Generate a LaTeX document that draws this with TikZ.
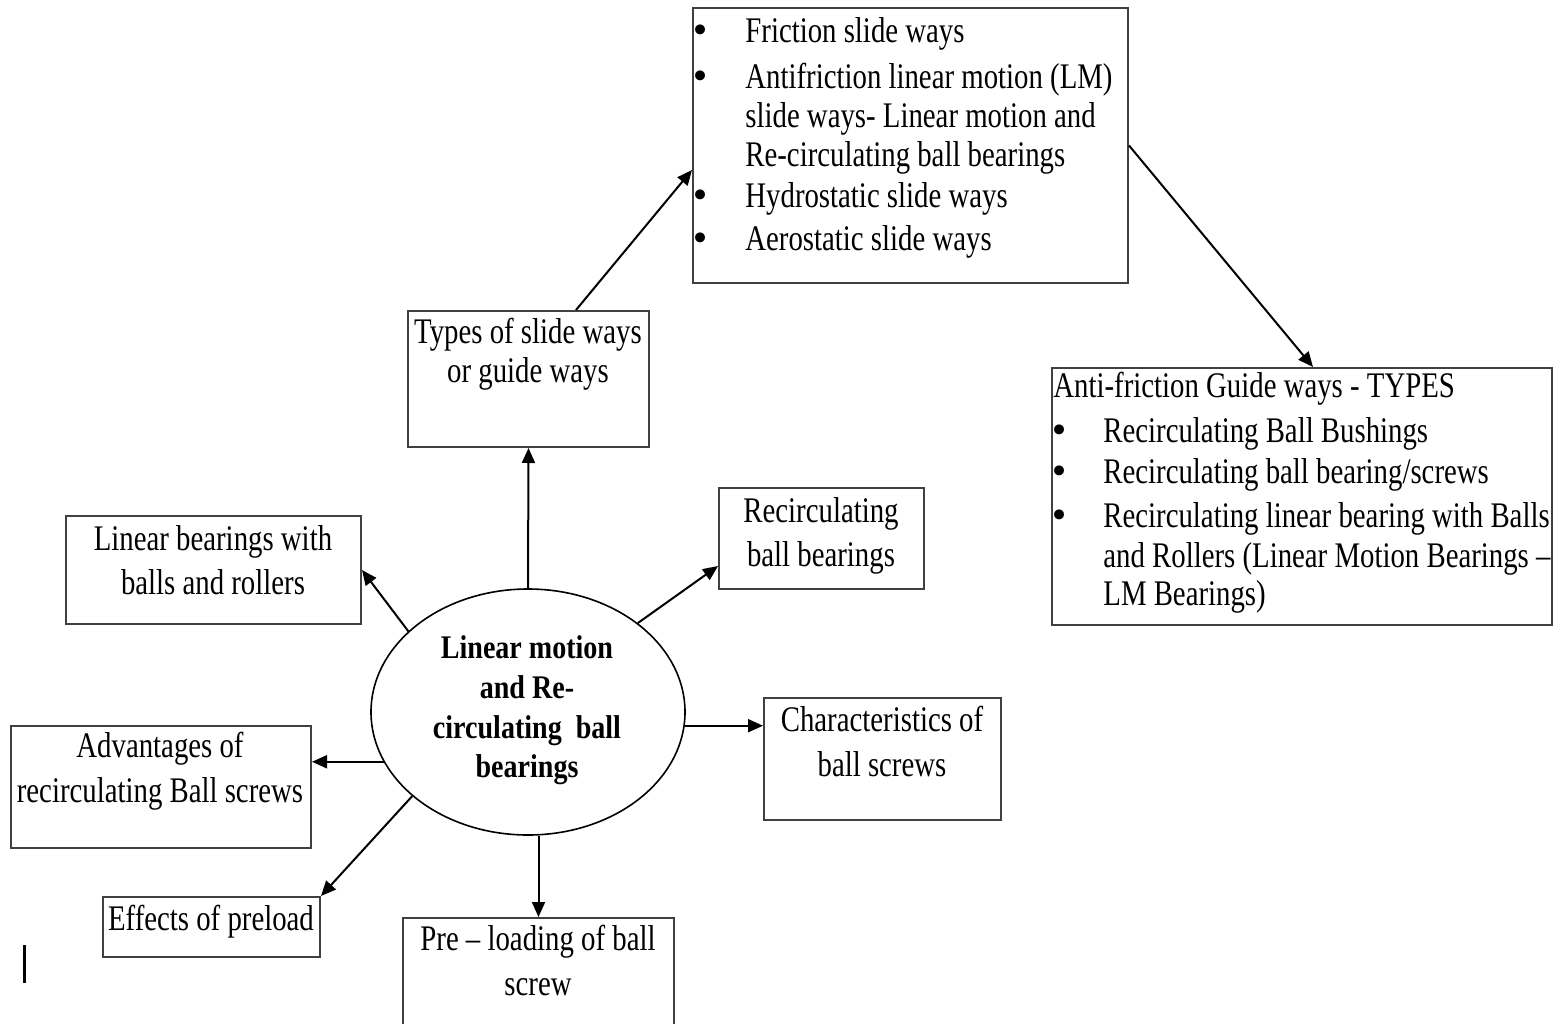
\documentclass[tikz,border=0pt]{standalone}
\usepackage{fontspec}
\setmainfont[FakeStretch=0.8]{Liberation Serif}
\newfontfamily\ellf[FakeStretch=0.85]{Liberation Serif}
\newfontfamily\bulf{DejaVu Sans}
\usetikzlibrary{arrows.meta,shapes.geometric,fit,calc}
\begin{document}
\begin{tikzpicture}[x=0.5pt,y=-0.5pt,
  box/.style={draw=black!75, line width=1pt, inner sep=0pt, rectangle},
  arr/.style={line width=1pt, -{Triangle[length=7.5pt,width=6.5pt]}},
  t/.style={anchor=base west, inner sep=0pt, font=\fontsize{18}{20}\selectfont},
  tc/.style={anchor=base, inner sep=0pt, font=\fontsize{18}{20}\selectfont},
  tb/.style={anchor=base, inner sep=0pt, font=\fontsize{16.5}{20}\ellf\bfseries},
  bul/.style={anchor=base, inner sep=0pt, font=\fontsize{17}{17}\bulf}]
\useasboundingbox (0,0) rectangle (1553,1023);
\fill[white] (0,0) rectangle (1553,1023);
% boxes
\node[box, fit={(693,8) (1128,283)}] (top) {};
\node[box, fit={(1052,368) (1552,625)}] (af) {};
\node[box, fit={(408,311) (649,447)}] (ty) {};
\node[box, fit={(719,488) (924,589)}] (rb) {};
\node[box, fit={(66,516) (361,624)}] (lb) {};
\node[box, fit={(11,726) (311,848)}] (adv) {};
\node[box, fit={(764,698) (1001,820)}] (ch) {};
\node[box, fit={(103,897) (320,957)}] (eff) {};
\node[box, fit={(403,918) (674,1040)}] (pre) {};
\node[draw, ellipse, line width=0.8pt, minimum width=157pt, minimum height=123pt, inner sep=0pt] (ell) at (528,712) {};
% top box text
\node[bul] (b1) at (701,42) {•};
\node[t] (t1) at (745,42) {Friction slide ways};
\node[bul] (b2) at (701,88) {•};
\node[t] (t2) at (745,88) {Antifriction linear motion (LM)};
\node[t] (t3) at (745,127) {slide ways- Linear motion and};
\node[t] (t4) at (745,166) {Re-circulating ball bearings};
\node[bul] (b3) at (701,207) {•};
\node[t] (t5) at (745,207) {Hydrostatic slide ways};
\node[bul] (b4) at (701,250) {•};
\node[t] (t6) at (745,250) {Aerostatic slide ways};
% anti-friction box text
\node[t] (a0) at (1053,397) {Anti-friction Guide ways - TYPES};
\node[bul] (c1) at (1060,442) {•};
\node[t] (a1) at (1103,442) {Recirculating Ball Bushings};
\node[bul] (c2) at (1060,483) {•};
\node[t] (a2) at (1103,483) {Recirculating ball bearing/screws};
\node[bul] (c3) at (1060,527) {•};
\node[t] (a3) at (1103,527) {Recirculating linear bearing with Balls};
\node[t] (a4) at (1103,567) {and Rollers (Linear Motion Bearings –};
\node[t] (a5) at (1103,605) {LM Bearings)};
% centred texts
\node[tc] (ty1) at (528,343) {Types of slide ways};
\node[tc] (ty2) at (528,382) {or guide ways};
\node[tc] (rb1) at (821,522) {Recirculating};
\node[tc] (rb2) at (821,566) {ball bearings};
\node[tc] (lb1) at (213,550) {Linear bearings with};
\node[tc] (lb2) at (213,594) {balls and rollers};
\node[tc] (adv1) at (160,757) {Advantages of};
\node[tc] (adv2) at (160,802) {recirculating Ball screws};
\node[tc] (ch1) at (882,731) {Characteristics of};
\node[tc] (ch2) at (882,776) {ball screws};
\node[tc] (eff1) at (211,930) {Effects of preload};
\node[tc] (pre1) at (538,950) {Pre – loading of ball};
\node[tc] (pre2) at (538,995) {screw};
\node[tb] (e1) at (527,658) {Linear motion};
\node[tb] (e2) at (527,698) {and Re-};
\node[tb] (e3) at (527,738) {circulating\ \ ball};
\node[tb] (e4) at (527,777) {bearings};
% stray mark
\draw[line width=1.5pt] (24,945) -- (24,983);
% connectors
\draw[arr] ($(ty.north)+(47.5,0)$) -- ($(top.west)+(0,24.5)$);
\draw[arr] (top.east) -- ($(af.north)+(11,0)$);
\draw[arr] (ell.north) -- (ty.south);
\draw[arr] (ell.39.5) -- ($(rb.west)+(0,27.5)$);
\draw[arr] (ell.146.6) -- (lb.east);
\draw[arr] (ell.355) -- (ell.355 -| ch.west);
\draw[arr] (ell.199) -- (ell.199 -| adv.east);
\draw[arr] (ell.216.6) -- (eff.north east);
\draw[arr] (ell.south -| pre.north) -- (pre.north);
\end{tikzpicture}
\end{document}
